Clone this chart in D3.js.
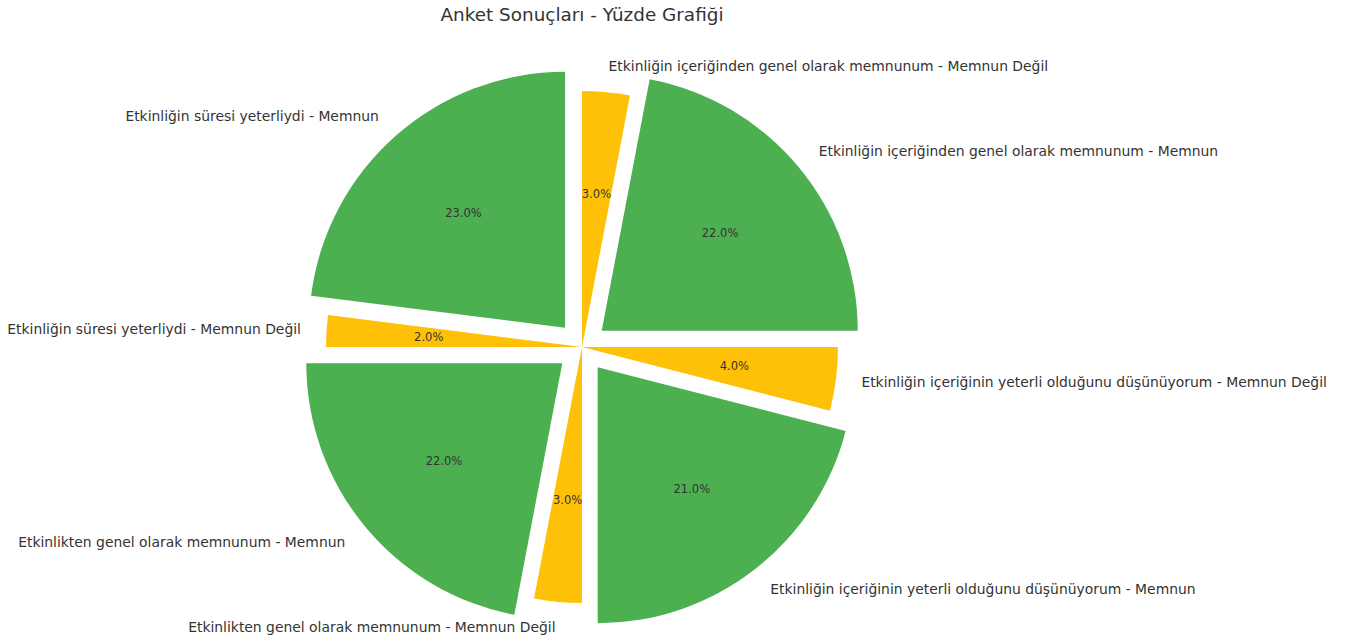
<!DOCTYPE html>
<html>
<head>
<meta charset="utf-8">
<script src="https://cdn.jsdelivr.net/npm/d3@7"></script>
<style>
  body { margin: 0; background: #fff; }
  text { font-family: "DejaVu Sans", sans-serif; fill: #333; }
</style>
</head>
<body>
<div id="chart"></div>
<script>
var labels = [
  "Etkinliğin süresi yeterliydi - Memnun",
  "Etkinliğin süresi yeterliydi - Memnun Değil",
  "Etkinlikten genel olarak memnunum - Memnun",
  "Etkinlikten genel olarak memnunum - Memnun Değil",
  "Etkinliğin içeriğinin yeterli olduğunu düşünüyorum - Memnun",
  "Etkinliğin içeriğinin yeterli olduğunu düşünüyorum - Memnun Değil",
  "Etkinliğin içeriğinden genel olarak memnunum - Memnun",
  "Etkinliğin içeriğinden genel olarak memnunum - Memnun Değil"
];
var values = [23, 2, 22, 3, 21, 4, 22, 3];
var groups = ["Memnun", "Memnun Değil"];
var title = "Anket Sonuçları - Yüzde Grafiği";

var w = 1351, h = 641,
    cx = 582, cy = 347, R = 256;

var color = d3.scaleOrdinal().domain(groups).range(["#4CAF50", "#FFC107"]);

function groupOf(l) { return /Memnun Değil$/.test(l) ? "Memnun Değil" : "Memnun"; }

var data = labels.map(function(l, i) { return {label: l, value: values[i], group: groupOf(l)}; });
var total = d3.sum(values);

var svg = d3.select("#chart").append("svg")
  .attr("width", w).attr("height", h);

svg.append("text")
  .attr("x", cx).attr("y", 14)
  .attr("text-anchor", "middle")
  .attr("dominant-baseline", "central")
  .style("font-size", "18.4px")
  .text(title);

// matplotlib-like: start at 12 o'clock, go counterclockwise
var pie = d3.pie().sort(null).value(function(d) { return d.value; })
  .startAngle(0).endAngle(-2 * Math.PI);
var arc = d3.arc().innerRadius(0).outerRadius(R);

var slices = svg.selectAll(".slice")
  .data(pie(data))
  .enter()
  .append("g")
  .attr("class", "slice")
  .attr("transform", function(d) {
    var a = (d.startAngle + d.endAngle) / 2;
    var ex = d.data.group == "Memnun" ? 0.1 * R : 0;
    return "translate(" + (cx + Math.sin(a) * ex) + "," + (cy - Math.cos(a) * ex) + ")";
  });

slices.append("path")
  .attr("d", arc)
  .style("fill", function(d) { return color(d.data.group); });

slices.append("text")
  .attr("x", function(d) { return Math.sin((d.startAngle + d.endAngle) / 2) * R * 0.6; })
  .attr("y", function(d) { return -Math.cos((d.startAngle + d.endAngle) / 2) * R * 0.6; })
  .attr("text-anchor", "middle")
  .attr("dominant-baseline", "central")
  .style("font-size", "11.5px")
  .text(function(d) { return (d.data.value / total * 100).toFixed(1) + "%"; });

slices.append("text")
  .attr("x", function(d) { return Math.sin((d.startAngle + d.endAngle) / 2) * R * 1.1; })
  .attr("y", function(d) { return -Math.cos((d.startAngle + d.endAngle) / 2) * R * 1.1 - 0.5; })
  .attr("text-anchor", function(d) { return Math.sin((d.startAngle + d.endAngle) / 2) > 0 ? "start" : "end"; })
  .attr("dominant-baseline", "central")
  .style("font-size", "13.9px")
  .text(function(d) { return d.data.label; });
</script>
</body>
</html>
